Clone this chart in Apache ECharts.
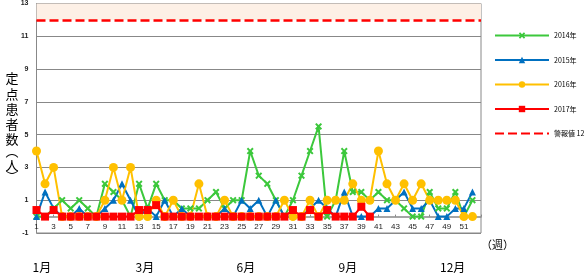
<!DOCTYPE html>
<html><head><meta charset="utf-8">
<script src="https://cdn.jsdelivr.net/npm/echarts@6/dist/echarts.min.js"></script>
<style>html,body{margin:0;padding:0;background:#fff}#c{width:588px;height:274px}</style>
</head><body><div id="c"></div>
<script>
const weeks = ["1","2","3","4","5","6","7","8","9","10","11","12","13","14","15","16","17","18","19","20","21","22","23","24","25","26","27","28","29","30","31","32","33","34","35","36","37","38","39","40","41","42","43","44","45","46","47","48","49","50","51","52","53"];
const y2014 = [0,0,0.5,1,0.5,1,0.5,0,2,1.5, 1,0,2,0.5,2,1,1,0.5,0.5,0.5, 1,1.5,0.5,1,1,4,2.5,2,1,0, 1,2.5,4,5.5,0,1,4,1.5,1.5,1, 1.5,1,1,0.5,0,0,1.5,0.5,0.5,1.5, 0,1];
const y2015 = [0,1.5,0.5,0,0,0.5,0,0,0.5,1, 2,1,0,0.5,0,1,0,0.5,0,0, 0,0,0.5,0,1,0.5,1,0,1,0, 0,0,0.5,1,0.5,0,1.5,0,0,0, 0.5,0.5,1,1.5,0.5,0.5,1,0,0,0.5, 0.5,1.5];
const y2016 = [4,2,3,0,0,0,0,0,1,3, 1,3,0,0,1,0,1,0,0,2, 0,0,1,0,0,0,0,0,0,1, 0,0,1,0,1,1,1,2,1,1, 4,2,1,2,1,2,1,1,1,1, 0,0];
const y2017 = [0.4,0,0.4,0,0,0,0,0,0,0, 0,0,0.4,0.4,0.7,0,0,0,0,0, 0,0,0,0,0,0,0,0,0,0, 0.4,0,0.4,0,0.4,0,0,0,0.6,0];
const warningLevel = 12;
const yTicks = {min:-1, max:13, step:2};
const seriesNames = ["2014年","2015年","2016年","2017年","警報値 12"];
const months = [["1月",41],["3月",144],["6月",245],["9月",347],["12月",452]];
const yTitle = ["定","点","患","者","数","︵","人","︶"];
const yTitleY = [78,94,109,124,139,151,165,176];

const chart = echarts.init(document.getElementById('c'));
const xPath = 'path://M2,0 L5,3 L8,0 L10,2 L7,5 L10,8 L8,10 L5,7 L2,10 L0,8 L3,5 L0,2 Z';
const graphics = [];
months.forEach(m => graphics.push({type:'text', left:m[1]-(m[0].length>2?12:8.5), top:261, style:{text:m[0], font:'12px "Noto Sans CJK JP"', fill:'#000'}}));
graphics.push({type:'text', left:481, top:239, style:{text:'（週）', font:'11px "Noto Sans CJK JP"', fill:'#000'}});
yTitle.forEach((ch,i) => graphics.push({type:'text', x:12, y:yTitleY[i], style:{text:ch, font:'13px "Noto Sans CJK JP"', fill:'#000', align:'center', verticalAlign:'middle'}}));

const legendData = seriesNames.map((n,i) => i===4 ? {name:n, itemStyle:{opacity:0}} : {name:n});

chart.setOption({
  animation:false,
  textStyle:{fontFamily:'"Liberation Sans", Arial, sans-serif'},
  grid:{left:36.5, right:107, top:2, bottom:41, show:true, borderColor:'#888', borderWidth:1},
  legend:{data:legendData, orient:'vertical', left:489, top:27, itemWidth:54, itemHeight:8, itemGap:17.5,
    textStyle:{fontSize:7, color:'#000', fontFamily:'"Noto Sans CJK JP"'}},
  xAxis:{type:'category', data:weeks, boundaryGap:false,
    axisLine:{onZero:true, lineStyle:{color:'#888', width:1.5}},
    axisTick:{show:true, length:2, inside:true, lineStyle:{color:'#888'}},
    axisLabel:{interval:1, fontSize:8, color:'#222', margin:-10, formatter:v => v==='53'?'':v}},
  yAxis:{type:'value', min:yTicks.min, max:yTicks.max, interval:yTicks.step,
    axisLine:{show:true, lineStyle:{color:'#888'}}, axisTick:{show:false},
    axisLabel:{fontSize:7, color:'#222', margin:8, fontWeight:'bold'},
    splitLine:{lineStyle:{color:'#888', width:1}}},
  series:[
    {name:seriesNames[0], type:'line', data:y2014, symbol:xPath, symbolSize:7, showAllSymbol:true, color:'#3cc83c', lineStyle:{width:2}},
    {name:seriesNames[1], type:'line', data:y2015, symbol:'triangle', symbolSize:7, showAllSymbol:true, color:'#0070c0', lineStyle:{width:2}},
    {name:seriesNames[2], type:'line', data:y2016, symbol:'circle', symbolSize:9, showAllSymbol:true, color:'#ffc000', lineStyle:{width:2}},
    {name:seriesNames[3], type:'line', data:y2017, symbol:'rect', symbolSize:8, showAllSymbol:true, color:'#ff0000', lineStyle:{width:2}},
    {name:seriesNames[4], type:'line', data:[], symbol:'none', color:'#ff0000', lineStyle:{width:2.5, type:[9,4]},
      markLine:{silent:true, symbol:'none', label:{show:false}, lineStyle:{color:'#ff0000', width:2.5, type:[9,4]}, data:[{yAxis:warningLevel}]},
      markArea:{silent:true, itemStyle:{color:'#fdf0e6'}, data:[[{yAxis:warningLevel},{yAxis:yTicks.max}]]}}
  ],
  graphic:graphics
});
</script></body></html>
